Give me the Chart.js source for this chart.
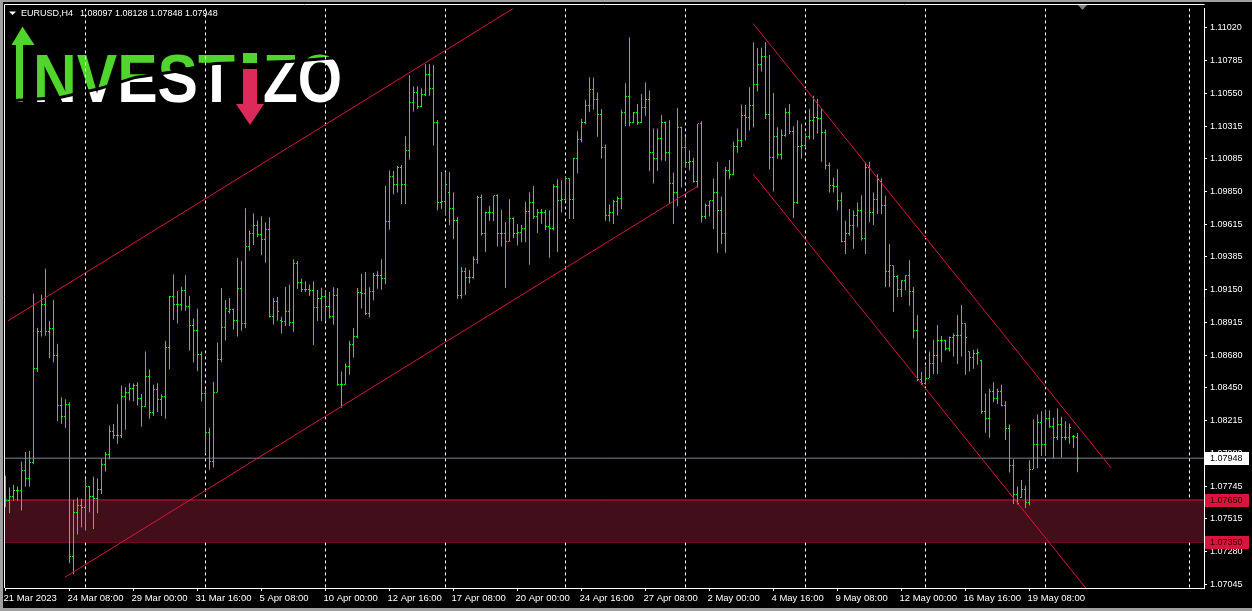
<!DOCTYPE html>
<html>
<head>
<meta charset="utf-8">
<script src="https://cdn.jsdelivr.net/npm/chart.js@4.4.1/dist/chart.umd.min.js"></script>
<style>
  html, body { margin: 0; padding: 0; background: #000; overflow: hidden; }
  canvas { display: block; }
</style>
</head>
<body>
<canvas id="grafico" width="1252" height="611"></canvas>
<script>
// Datos EURUSD H4 (una barra cada 4 horas, desde 21 Mar 2023 16:00)
const simbolo = 'EURUSD,H4';

const aperturas = [
  1.07633,1.07645,1.07673,1.07716,1.07716,1.07858,1.07806,1.07914,1.08586,1.08855,
  1.09044,1.08850,1.08874,1.08678,1.08324,1.08246,1.08331,1.07248,1.07562,1.07610,
  1.07598,1.07744,1.07673,1.07657,1.07728,1.07905,1.07976,1.08141,1.08111,1.08111,
  1.08389,1.08413,1.08448,1.08467,1.08373,1.08316,1.08531,1.08274,1.08437,1.08370,
  1.08385,1.08739,1.09098,1.09044,1.09047,1.09146,1.09028,1.08891,1.08862,1.08685,
  1.08406,1.08132,1.07922,1.08418,1.08650,1.08879,1.08997,1.09008,1.08933,1.09160,
  1.08905,1.09460,1.09552,1.09607,1.09545,1.09508,1.09576,1.08962,1.09068,1.08933,
  1.08921,1.08992,1.08914,1.09340,1.09198,1.09153,1.09148,1.09143,1.09025,1.09086,
  1.09098,1.09028,1.08955,1.09111,1.08472,1.08472,1.08600,1.08760,1.08815,1.09129,
  1.09122,1.08978,1.09134,1.09252,1.09252,1.09228,1.09635,1.09956,1.09902,1.10018,
  1.09898,1.10143,1.10486,1.10557,1.10458,1.10540,1.10687,1.10587,1.10339,1.09772,
  1.09777,1.09843,1.09730,1.09642,1.09111,1.09276,1.09240,1.09240,1.09366,1.09807,
  1.09554,1.09701,1.09701,1.09820,1.09547,1.09547,1.09493,1.09654,1.09547,1.09559,
  1.09588,1.09706,1.09770,1.09671,1.09701,1.09701,1.09600,1.09588,1.09883,1.09784,
  1.09795,1.09942,1.09795,1.10084,1.10221,1.10339,1.10462,1.10580,1.10504,1.10396,
  1.10167,1.09682,1.09701,1.09777,1.09800,1.10415,1.10529,1.10339,1.10410,1.10344,
  1.10450,1.10509,1.10131,1.10084,1.10226,1.10344,1.10131,1.09907,1.09843,1.10309,
  1.10167,1.10056,1.10063,1.09919,1.10332,1.09671,1.09753,1.09784,1.09843,1.09713,
  1.09550,1.10000,1.09971,1.10169,1.10217,1.10391,1.10380,1.10467,1.10611,1.10753,
  1.10812,1.10401,1.10089,1.10245,1.10115,1.10249,1.10415,1.10278,1.09770,1.10174,
  1.10181,1.10240,1.10358,1.10375,1.10368,1.10268,1.10032,1.09890,1.09885,1.09784,
  1.09493,1.09552,1.09611,1.09682,1.09713,1.09515,1.10020,1.09701,1.09795,1.09919,
  1.09753,1.09281,1.09323,1.09247,1.09150,1.09214,1.09252,1.09134,1.08862,1.08508,
  1.08480,1.08519,1.08626,1.08680,1.08784,1.08784,1.08732,1.08810,1.08822,1.08820,
  1.08905,1.08709,1.08666,1.08696,1.08643,1.08278,1.08231,1.08425,1.08373,1.08420,
  1.08324,1.08160,1.07893,1.07688,1.07670,1.07728,1.07633,1.07870,1.08047,1.08205,
  1.08047,1.08231,1.08175,1.08099,1.08189,1.08094,1.08094,1.08105,1.08097
];

const maximos = [
  1.07822,1.07739,1.07758,1.07744,1.07922,1.07992,1.07999,1.09120,1.08879,1.09113,
  1.09299,1.08926,1.09077,1.08765,1.08382,1.08368,1.08347,1.07650,1.07666,1.07659,
  1.07799,1.07750,1.07815,1.07803,1.07943,1.07992,1.08179,1.08191,1.08333,1.08467,
  1.08453,1.08482,1.08480,1.08487,1.08406,1.08709,1.08581,1.08472,1.08482,1.08404,
  1.08784,1.09106,1.09259,1.09139,1.09171,1.09252,1.09106,1.08945,1.09013,1.08709,
  1.08437,1.08165,1.08491,1.08772,1.09162,1.09077,1.09091,1.09016,1.09375,1.09354,
  1.09730,1.09571,1.09694,1.09644,1.09673,1.09630,1.09666,1.09091,1.09098,1.08957,
  1.09169,1.09186,1.09366,1.09354,1.09228,1.09210,1.09186,1.09210,1.09148,1.09164,
  1.09141,1.09134,1.09167,1.09162,1.08567,1.08623,1.08784,1.08874,1.09162,1.09262,
  1.09276,1.09167,1.09271,1.09281,1.09366,1.09890,1.10001,1.09997,1.10032,1.10039,
  1.10245,1.10680,1.10599,1.10599,1.10587,1.10758,1.10758,1.10753,1.10358,1.09990,
  1.09990,1.09990,1.09843,1.09666,1.09311,1.09306,1.09290,1.09387,1.09820,1.09829,
  1.09706,1.09746,1.09820,1.09831,1.09720,1.09630,1.09795,1.09666,1.09618,1.09611,
  1.09777,1.09843,1.09890,1.09725,1.09725,1.09720,1.09717,1.09902,1.09937,1.09930,
  1.09961,1.09942,1.10091,1.10280,1.10368,1.10504,1.10665,1.10663,1.10557,1.10439,
  1.10185,1.09758,1.09791,1.09815,1.10434,1.10623,1.10949,1.10417,1.10474,1.10545,
  1.10630,1.10571,1.10297,1.10297,1.10396,1.10351,1.10358,1.09985,1.10446,1.10311,
  1.10238,1.10143,1.10091,1.10332,1.10351,1.09765,1.09784,1.09942,1.10061,1.09815,
  1.10025,1.10075,1.10205,1.10297,1.10469,1.10469,1.10594,1.10914,1.10871,1.10876,
  1.10914,1.10823,1.10552,1.10309,1.10292,1.10446,1.10474,1.10316,1.10358,1.10334,
  1.10268,1.10439,1.10533,1.10509,1.10439,1.10292,1.10056,1.09949,1.10008,1.09843,
  1.09642,1.09725,1.09717,1.09772,1.09824,1.10056,1.10063,1.09843,1.09973,1.09944,
  1.09820,1.09476,1.09323,1.09252,1.09217,1.09252,1.09359,1.09169,1.08969,1.08562,
  1.08602,1.08709,1.08792,1.08898,1.08820,1.08792,1.08815,1.08838,1.08969,1.09040,
  1.08910,1.08709,1.08721,1.08728,1.08650,1.08409,1.08444,1.08489,1.08444,1.08472,
  1.08354,1.08189,1.07941,1.07744,1.07792,1.07751,1.07934,1.08224,1.08260,1.08283,
  1.08295,1.08290,1.08236,1.08302,1.08241,1.08212,1.08196,1.08113,1.08128
];

const minimos = [
  1.07598,1.07555,1.07645,1.07645,1.07574,1.07744,1.07744,1.07905,1.08562,1.08815,
  1.08822,1.08661,1.08633,1.08212,1.08193,1.08165,1.07201,1.07120,1.07404,1.07456,
  1.07432,1.07562,1.07442,1.07555,1.07693,1.07853,1.07941,1.08087,1.08051,1.08092,
  1.08151,1.08359,1.08354,1.08324,1.08172,1.08314,1.08229,1.08248,1.08278,1.08248,
  1.08229,1.08583,1.08935,1.08909,1.09001,1.08999,1.08716,1.08630,1.08569,1.08354,
  1.07980,1.07865,1.07881,1.08418,1.08633,1.08787,1.08980,1.08867,1.08815,1.08857,
  1.08874,1.09425,1.09469,1.09524,1.09398,1.09342,1.08952,1.08902,1.08928,1.08838,
  1.08891,1.08891,1.08850,1.09157,1.09134,1.09134,1.09106,1.08756,1.08926,1.08926,
  1.08930,1.08945,1.08902,1.08465,1.08307,1.08472,1.08543,1.08666,1.08803,1.09016,
  1.08969,1.08952,1.09075,1.09157,1.09150,1.09189,1.09578,1.09831,1.09843,1.09760,
  1.09760,1.10079,1.10422,1.10439,1.10453,1.10529,1.10533,1.10178,1.09717,1.09725,
  1.09678,1.09611,1.09512,1.09084,1.09087,1.09111,1.09193,1.09228,1.09335,1.09536,
  1.09418,1.09642,1.09637,1.09458,1.09458,1.09162,1.09493,1.09517,1.09465,1.09488,
  1.09488,1.09328,1.09654,1.09554,1.09618,1.09576,1.09377,1.09571,1.09418,1.09701,
  1.09786,1.09654,1.09654,1.09980,1.10202,1.10330,1.10415,1.10434,1.10240,1.10086,
  1.09642,1.09635,1.09618,1.09678,1.09725,1.10316,1.10316,1.10339,1.10327,1.10339,
  1.10391,1.09997,1.09909,1.09997,1.10072,1.10068,1.09760,1.09618,1.09744,1.09878,
  1.10020,1.10001,1.09914,1.09878,1.09630,1.09654,1.09671,1.09583,1.09413,1.09476,
  1.09413,1.09937,1.09966,1.10127,1.10167,1.10214,1.10285,1.10309,1.10564,1.10706,
  1.10368,1.10008,1.09852,1.10084,1.10079,1.10240,1.10261,1.09661,1.09760,1.10084,
  1.10162,1.10221,1.10221,1.10263,1.10063,1.10008,1.09843,1.09843,1.09717,1.09488,
  1.09405,1.09536,1.09441,1.09595,1.09500,1.09405,1.09630,1.09611,1.09689,1.09689,
  1.09169,1.09169,1.08992,1.09098,1.09098,1.09146,1.09035,1.08803,1.08496,1.08472,
  1.08472,1.08519,1.08548,1.08548,1.08633,1.08716,1.08709,1.08673,1.08619,1.08673,
  1.08543,1.08567,1.08586,1.08614,1.08264,1.08129,1.08094,1.08347,1.08335,1.08319,
  1.08078,1.07846,1.07622,1.07617,1.07664,1.07593,1.07610,1.07870,1.07877,1.07964,
  1.07964,1.08165,1.07948,1.08075,1.07952,1.08075,1.08051,1.08019,1.07848
];

const cierres = [
  1.07645,1.07673,1.07716,1.07716,1.07858,1.07806,1.07914,1.08586,1.08855,1.09044,
  1.08850,1.08874,1.08678,1.08324,1.08246,1.08331,1.07248,1.07562,1.07610,1.07598,
  1.07744,1.07673,1.07657,1.07728,1.07905,1.07976,1.08141,1.08111,1.08111,1.08389,
  1.08413,1.08448,1.08467,1.08373,1.08316,1.08531,1.08274,1.08437,1.08370,1.08385,
  1.08739,1.09098,1.09044,1.09047,1.09146,1.09028,1.08891,1.08862,1.08685,1.08406,
  1.08132,1.07922,1.08418,1.08650,1.08879,1.09016,1.09008,1.08933,1.09160,1.08905,
  1.09460,1.09552,1.09607,1.09545,1.09508,1.09576,1.08962,1.09068,1.08992,1.08921,
  1.08992,1.08914,1.09340,1.09198,1.09153,1.09148,1.09143,1.09025,1.09086,1.09098,
  1.09028,1.08955,1.09111,1.08472,1.08472,1.08600,1.08760,1.08815,1.09129,1.09122,
  1.08978,1.09134,1.09252,1.09252,1.09228,1.09635,1.09956,1.09902,1.10018,1.09898,
  1.10143,1.10486,1.10557,1.10458,1.10540,1.10687,1.10587,1.10339,1.09772,1.09777,
  1.09898,1.09730,1.09642,1.09111,1.09276,1.09240,1.09240,1.09366,1.09807,1.09554,
  1.09701,1.09701,1.09820,1.09547,1.09547,1.09493,1.09654,1.09547,1.09559,1.09588,
  1.09706,1.09770,1.09671,1.09701,1.09701,1.09600,1.09588,1.09883,1.09784,1.09795,
  1.09942,1.09795,1.10084,1.10221,1.10339,1.10462,1.10580,1.10504,1.10396,1.10167,
  1.09682,1.09701,1.09777,1.09800,1.10415,1.10529,1.10339,1.10410,1.10344,1.10450,
  1.10509,1.10131,1.10084,1.10226,1.10344,1.10131,1.09907,1.09843,1.10309,1.10167,
  1.10056,1.10063,1.09919,1.10332,1.09671,1.09753,1.09784,1.09843,1.09713,1.09550,
  1.10000,1.09971,1.10169,1.10217,1.10391,1.10380,1.10467,1.10611,1.10753,1.10812,
  1.10401,1.10089,1.10245,1.10115,1.10249,1.10415,1.10278,1.09770,1.10174,1.10181,
  1.10240,1.10358,1.10375,1.10368,1.10268,1.10032,1.09890,1.09885,1.09784,1.09493,
  1.09552,1.09611,1.09682,1.09713,1.09515,1.10020,1.09701,1.09795,1.09933,1.09753,
  1.09281,1.09323,1.09247,1.09150,1.09214,1.09252,1.09134,1.08862,1.08508,1.08480,
  1.08519,1.08626,1.08680,1.08784,1.08784,1.08732,1.08810,1.08822,1.08820,1.08905,
  1.08808,1.08666,1.08696,1.08701,1.08278,1.08231,1.08425,1.08373,1.08420,1.08324,
  1.08160,1.07893,1.07688,1.07622,1.07728,1.07633,1.07870,1.08047,1.08205,1.08047,
  1.08231,1.08175,1.08099,1.08189,1.08094,1.08094,1.08170,1.08101,1.07948
];

// Eje de tiempo: una etiqueta cada 16 barras
const indicesFecha = [0, 16, 32, 48, 64, 80, 96, 112, 128, 144, 160, 176, 192, 208, 224, 240, 256];
const etiquetasFecha = [
  '21 Mar 2023', '24 Mar 08:00', '29 Mar 00:00', '31 Mar 16:00', '5 Apr 08:00', '10 Apr 00:00',
  '12 Apr 16:00', '17 Apr 08:00', '20 Apr 00:00', '24 Apr 16:00', '27 Apr 08:00', '2 May 00:00',
  '4 May 16:00', '9 May 08:00', '12 May 00:00', '16 May 16:00', '19 May 08:00'
];

// Eje de precios
const nivelesPrecio = [
  1.11020, 1.10785, 1.10550, 1.10315, 1.10085, 1.09850, 1.09615, 1.09385, 1.09150,
  1.08915, 1.08680, 1.08450, 1.08215, 1.07980, 1.07745, 1.07515, 1.07280, 1.07045
];

// Separadores semanales (indice de barra del lunes 00:00)
const separadoresSemana = [20, 50, 80, 110, 140, 170, 200, 230, 260, 296];

// Canales: [indice de barra, precio]
const canalSubidaArriba = [[0.625, 1.08928], [126.9, 1.11155]];
const canalSubidaAbajo = [[14.875, 1.07099], [172.9, 1.09885]];
const canalBajadaArriba = [[186.9, 1.11048], [276.4, 1.07879]];
const canalBajadaAbajo = [[186.9, 1.09974], [271.1, 1.06986]];

const precioActual = 1.07948;
const zonaSoporte = [1.07650, 1.07350];

const COLOR_BARRA = '#00ff00';
const CARMESI = '#dc143c';
const VERDE_LOGO = '#4fd52b';
const ROJO_LOGO = '#dc2a5a';

Chart.defaults.font.family = '"Liberation Sans", Arial, sans-serif';

function puntos(pares) {
  return pares.map(p => ({ x: p[0], y: p[1] }));
}

function lineaHorizontal(precio) {
  return [{ x: -5, y: precio }, { x: 305, y: precio }];
}

// Fondo negro y marco gris de la ventana
const fondo = {
  id: 'fondo',
  beforeDraw(chart) {
    const ctx = chart.ctx;
    ctx.save();
    ctx.fillStyle = '#000';
    ctx.fillRect(0, 0, chart.width, chart.height);
    ctx.fillStyle = '#a0a0a0';
    ctx.fillRect(0, 0, chart.width, 2);
    ctx.fillRect(0, 0, 3, chart.height);
    ctx.fillRect(0, 608, chart.width, 3);
    ctx.restore();
  }
};

function dibujarLogo(ctx) {
  ctx.save();
  const corte = [[0, 100], [60, 96], [100, 87], [135, 76], [175, 70], [215, 62], [290, 60], [350, 55]];

  const letras = (color, desplazar, arriba) => {
    ctx.save();
    ctx.beginPath();
    corte.forEach((p, i) => i ? ctx.lineTo(p[0], p[1] + desplazar) : ctx.moveTo(p[0], p[1] + desplazar));
    ctx.lineTo(350, arriba ? 0 : 140);
    ctx.lineTo(0, arriba ? 0 : 140);
    ctx.closePath();
    ctx.clip();
    ctx.fillStyle = color;
    ctx.fillRect(16, 44, 7, 58);
    ctx.font = 'bold 69px "Liberation Sans"';
    ctx.textBaseline = 'alphabetic';
    ctx.save();
    ctx.translate(33, 102);
    ctx.scale(0.878, 1);
    ctx.fillText('NVEST', 0, 0);
    ctx.restore();
    ctx.save();
    ctx.translate(263, 102);
    ctx.scale(0.825, 1);
    ctx.fillText('ZO', 0, 0);
    ctx.restore();
    ctx.restore();
  };
  letras(VERDE_LOGO, 0, true);
  letras('#ffffff', 3, false);

  // flecha verde (I)
  ctx.fillStyle = VERDE_LOGO;
  ctx.beginPath();
  ctx.moveTo(22.5, 26.5);
  ctx.lineTo(34.5, 45);
  ctx.lineTo(11.5, 45);
  ctx.closePath();
  ctx.fill();

  // i roja con flecha hacia abajo
  ctx.fillRect(243, 53, 14, 10);
  ctx.fillStyle = ROJO_LOGO;
  ctx.fillRect(243, 69, 14, 37);
  ctx.beginPath();
  ctx.moveTo(236, 104);
  ctx.lineTo(264, 104);
  ctx.lineTo(250, 125);
  ctx.closePath();
  ctx.fill();
  ctx.restore();
}

const logoYSeparadores = {
  id: 'logoYSeparadores',
  beforeDatasetsDraw(chart) {
    const { ctx, chartArea, scales: { x } } = chart;
    dibujarLogo(ctx);
    ctx.save();
    ctx.beginPath();
    ctx.rect(chartArea.left, chartArea.top, chartArea.right - chartArea.left, chartArea.bottom - chartArea.top);
    ctx.clip();
    ctx.strokeStyle = '#ffffff';
    ctx.lineWidth = 1;
    ctx.setLineDash([3, 3]);
    separadoresSemana.forEach(i => {
      const px = Math.floor(x.getPixelForValue(i)) + 0.5;
      ctx.beginPath();
      ctx.moveTo(px, chartArea.top);
      ctx.lineTo(px, chartArea.bottom);
      ctx.stroke();
    });
    ctx.restore();
  }
};

// Marcas de apertura (izquierda) y cierre (derecha)
const marcasOHLC = {
  id: 'marcasOHLC',
  afterDatasetsDraw(chart) {
    const { ctx, scales: { x, y } } = chart;
    ctx.save();
    ctx.fillStyle = COLOR_BARRA;
    cierres.forEach((c, i) => {
      const px = Math.floor(x.getPixelForValue(i));
      ctx.fillRect(px - 1, Math.floor(y.getPixelForValue(aperturas[i])), 1, 1);
      ctx.fillRect(px + 1, Math.floor(y.getPixelForValue(c)), 1, 1);
    });
    ctx.restore();
  }
};

function etiquetaPrecio(ctx, y, valor, colorFondo, colorTexto) {
  const py = Math.round(y.getPixelForValue(valor));
  ctx.fillStyle = colorFondo;
  ctx.fillRect(1205, py - 6, 44, 13);
  ctx.fillStyle = colorTexto;
  ctx.font = '9px "Liberation Sans"';
  ctx.textBaseline = 'middle';
  ctx.textAlign = 'left';
  ctx.fillText(valor.toFixed(5), 1210, py + 0.5);
}

const encabezado = {
  id: 'encabezado',
  afterDraw(chart) {
    const { ctx, chartArea, scales: { y } } = chart;
    ctx.save();
    // marco blanco
    ctx.strokeStyle = '#ffffff';
    ctx.lineWidth = 1;
    ctx.beginPath();
    ctx.moveTo(4.5, chartArea.bottom);
    ctx.lineTo(4.5, 4.5);
    ctx.lineTo(chartArea.right + 0.5, 4.5);
    ctx.stroke();

    // titulo con OHLC de la ultima barra
    const u = cierres.length - 1;
    ctx.fillStyle = '#ffffff';
    ctx.beginPath();
    ctx.moveTo(9, 11.5);
    ctx.lineTo(16, 11.5);
    ctx.lineTo(12.5, 15);
    ctx.closePath();
    ctx.fill();
    ctx.font = '9px "Liberation Sans"';
    ctx.textBaseline = 'alphabetic';
    ctx.fillText(simbolo, 21, 16);
    ctx.fillText([aperturas[u], maximos[u], minimos[u], cierres[u]].map(v => v.toFixed(5)).join(' '), 80, 16);

    // marca de desplazamiento del grafico
    ctx.fillStyle = '#808080';
    ctx.beginPath();
    ctx.moveTo(1078, 5);
    ctx.lineTo(1087, 5);
    ctx.lineTo(1082.5, 10);
    ctx.closePath();
    ctx.fill();

    etiquetaPrecio(ctx, y, precioActual, '#ffffff', '#000000');
    etiquetaPrecio(ctx, y, zonaSoporte[0], CARMESI, '#2a0008');
    etiquetaPrecio(ctx, y, zonaSoporte[1], CARMESI, '#2a0008');
    ctx.restore();
  }
};

const lineaBase = { type: 'line', borderWidth: 1, pointRadius: 0, tension: 0, fill: false };

new Chart(document.getElementById('grafico'), {
  type: 'bar',
  data: {
    datasets: [
      { ...lineaBase, label: 'canal1', data: puntos(canalSubidaArriba), borderColor: CARMESI, order: 0 },
      { ...lineaBase, label: 'canal2', data: puntos(canalSubidaAbajo), borderColor: CARMESI, order: 0 },
      { ...lineaBase, label: 'canal3', data: puntos(canalBajadaArriba), borderColor: CARMESI, order: 0 },
      { ...lineaBase, label: 'canal4', data: puntos(canalBajadaAbajo), borderColor: CARMESI, order: 0 },
      {
        type: 'bar',
        label: simbolo,
        data: cierres.map((c, i) => ({ x: i, y: [minimos[i], maximos[i]] })),
        backgroundColor: COLOR_BARRA,
        borderWidth: 0,
        barThickness: 1,
        inflateAmount: 0,
        grouped: false,
        order: 1
      },
      { ...lineaBase, label: 'bid', data: lineaHorizontal(precioActual), borderColor: '#778899', order: 2 },
      {
        ...lineaBase, label: 'zonaArriba', data: lineaHorizontal(zonaSoporte[0]), borderColor: CARMESI,
        fill: '+1', backgroundColor: '#420e1a', order: 3
      },
      { ...lineaBase, label: 'zonaAbajo', data: lineaHorizontal(zonaSoporte[1]), borderColor: CARMESI, order: 3 }
    ]
  },
  options: {
    responsive: false,
    animation: false,
    devicePixelRatio: 1,
    layout: { padding: { left: 5, top: 5, right: 0, bottom: 1 } },
    plugins: { legend: { display: false }, tooltip: { enabled: false } },
    scales: {
      x: {
        type: 'linear',
        min: -0.125,
        max: 299.625,
        offset: false,
        grid: { drawOnChartArea: false, drawTicks: true, tickLength: 3, color: '#ffffff', offset: false },
        border: { display: true, color: '#ffffff', width: 1 },
        ticks: {
          autoSkip: false, maxRotation: 0, minRotation: 0, align: 'start',
          color: '#ffffff', font: { size: 9.5 }, padding: 2, labelOffset: -2,
          callback: (v, i) => etiquetasFecha[i]
        },
        afterBuildTicks: s => { s.ticks = indicesFecha.map(v => ({ value: v })); },
        afterFit: s => { s.height = 22; }
      },
      y: {
        type: 'linear',
        position: 'right',
        min: 1.07022,
        max: 1.11156,
        beginAtZero: false,
        grid: { drawOnChartArea: false, drawTicks: true, tickLength: 3, color: '#ffffff' },
        border: { display: true, color: '#ffffff', width: 1 },
        ticks: { color: '#ffffff', font: { size: 9 }, padding: 3, callback: v => v.toFixed(5) },
        afterBuildTicks: s => { s.ticks = nivelesPrecio.map(v => ({ value: v })); },
        afterFit: s => { s.width = 48; }
      }
    }
  },
  plugins: [fondo, logoYSeparadores, marcasOHLC, encabezado]
});
</script>
</body>
</html>
